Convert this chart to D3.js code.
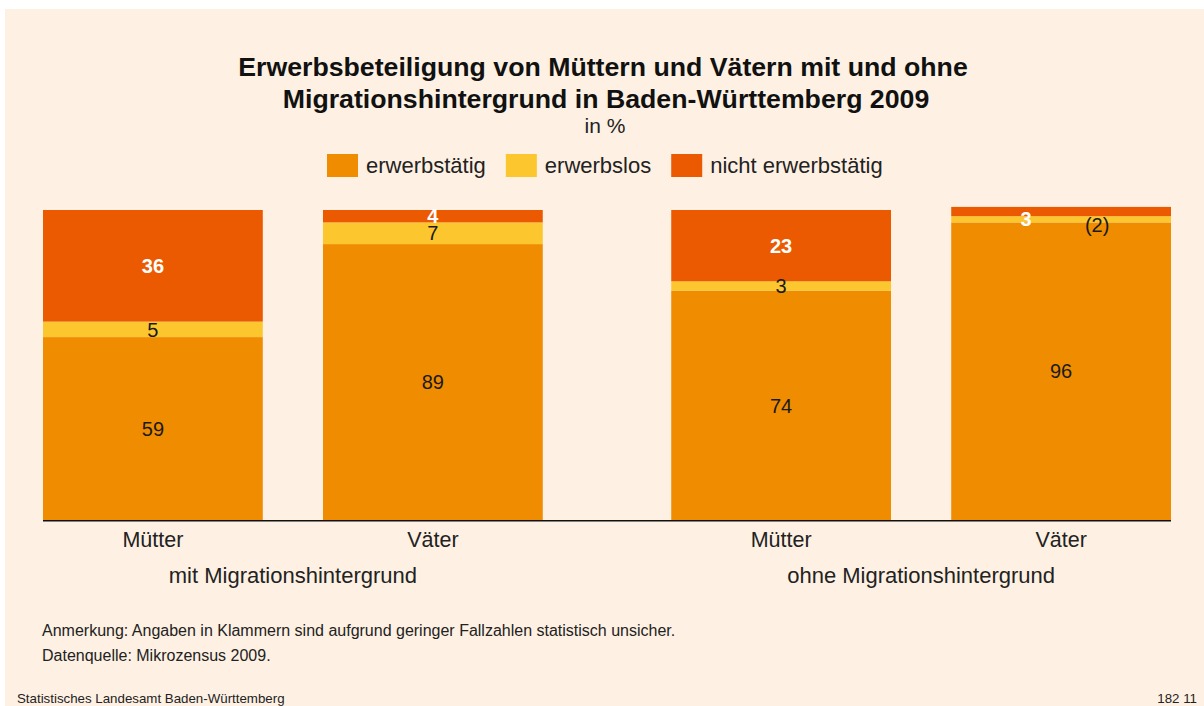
<!DOCTYPE html>
<html>
<head>
<meta charset="utf-8">
<script src="https://cdn.jsdelivr.net/npm/d3@7"></script>
<style>
  body { margin: 0; background: #fff; }
  text { font-family: "Liberation Sans", Arial, sans-serif; }
</style>
</head>
<body>
<svg id="chart" width="1204" height="706"></svg>
<script>
// data
const groups = ["mit Migrationshintergrund", "ohne Migrationshintergrund"];
const persons = ["Mütter", "Väter"];
const seriesNames = ["erwerbstätig", "erwerbslos", "nicht erwerbstätig"];
const erwerbstaetig = [59, 89, 74, 96];
const erwerbslos = [5, 7, 3, 2];
const nichtErwerbstaetig = [36, 4, 23, 3];
const labelTexts = [
  ["59", "5", "36"],
  ["89", "7", "4"],
  ["74", "3", "23"],
  ["96", "(2)", "3"]
];

const colors = ["#f08c00", "#fcc72e", "#eb5a00"];

const svg = d3.select("#chart");
svg.selectAll("*").remove();

// background panel
svg.append("rect")
  .attr("x", 5).attr("y", 9)
  .attr("width", 1199).attr("height", 697)
  .attr("fill", "#fef1e3");

// title
const title = svg.append("text")
  .attr("text-anchor", "middle")
  .attr("font-weight", "bold")
  .attr("font-size", 26.7)
  .attr("fill", "#111");
title.append("tspan").attr("x", 603).attr("y", 76)
  .text("Erwerbsbeteiligung von Müttern und Vätern mit und ohne");
title.append("tspan").attr("x", 606).attr("y", 108)
  .text("Migrationshintergrund in Baden-Württemberg 2009");

svg.append("text")
  .attr("x", 605).attr("y", 133)
  .attr("text-anchor", "middle")
  .attr("font-size", 21)
  .attr("fill", "#222")
  .text("in %");

// legend
let lx = 327;
seriesNames.forEach((name, i) => {
  svg.append("rect")
    .attr("x", lx).attr("y", 154)
    .attr("width", 31).attr("height", 23)
    .attr("fill", colors[i]);
  const t = svg.append("text")
    .attr("x", lx + 39).attr("y", 173)
    .attr("font-size", 22)
    .attr("fill", "#222")
    .text(name);
  lx += 39 + t.node().getComputedTextLength() + 20;
});

// scales
const x0 = d3.scaleBand()
  .domain(groups)
  .range([43, 1171])
  .paddingInner(0.2045)
  .paddingOuter(0);

const x1 = d3.scaleBand()
  .domain(persons)
  .range([0, x0.bandwidth()])
  .paddingInner(0.215)
  .paddingOuter(0);

const y = d3.scaleLinear().domain([0, 100]).range([520, 210]);

// stacked rows
const rows = [];
groups.forEach((g, gi) => {
  persons.forEach((p, pi) => {
    const k = gi * 2 + pi;
    rows.push({
      group: g, person: p, idx: k,
      erwerbstaetig: erwerbstaetig[k],
      erwerbslos: erwerbslos[k],
      nicht: nichtErwerbstaetig[k]
    });
  });
});

const stack = d3.stack().keys(["erwerbstaetig", "erwerbslos", "nicht"]);
const series = stack(rows);

const xPos = d => x0(d.data.group) + x1(d.data.person);

series.forEach((s, si) => {
  svg.append("g")
    .selectAll("rect")
    .data(s)
    .join("rect")
    .attr("x", d => xPos(d))
    .attr("y", d => y(d[1]))
    .attr("width", x1.bandwidth())
    .attr("height", d => y(d[0]) - y(d[1]))
    .attr("fill", colors[si]);
});

// value labels (small nudges for the crowded last bar)
const nudges = { "3-2": [-35, 7], "3-1": [36, 5] };
series.forEach((s, si) => {
  s.forEach(d => {
    const k = d.data.idx;
    const n = nudges[k + "-" + si] || [0, 0];
    const cx = xPos(d) + x1.bandwidth() / 2 + n[0];
    const cy = (y(d[0]) + y(d[1])) / 2 + n[1];
    svg.append("text")
      .attr("x", cx).attr("y", cy)
      .attr("dy", "0.36em")
      .attr("text-anchor", "middle")
      .attr("font-size", 20)
      .attr("font-weight", si === 2 ? "bold" : "normal")
      .attr("fill", si === 2 ? "#fff" : "#1a1a1a")
      .text(labelTexts[k][si]);
  });
});

// baseline
svg.append("line")
  .attr("x1", 43).attr("x2", 1171)
  .attr("y1", y(0) + 0.75).attr("y2", y(0) + 0.75)
  .attr("stroke", "#111")
  .attr("stroke-width", 1.5);

// category labels
rows.forEach(r => {
  svg.append("text")
    .attr("x", x0(r.group) + x1(r.person) + x1.bandwidth() / 2)
    .attr("y", 547)
    .attr("text-anchor", "middle")
    .attr("font-size", 21.5)
    .attr("fill", "#222")
    .text(r.person);
});

groups.forEach(g => {
  svg.append("text")
    .attr("x", x0(g) + x0.bandwidth() / 2)
    .attr("y", 583)
    .attr("text-anchor", "middle")
    .attr("font-size", 22)
    .attr("fill", "#222")
    .text(g);
});

// notes
svg.append("text")
  .attr("x", 42).attr("y", 636)
  .attr("font-size", 16)
  .attr("fill", "#222")
  .text("Anmerkung: Angaben in Klammern sind aufgrund geringer Fallzahlen statistisch unsicher.");
svg.append("text")
  .attr("x", 42).attr("y", 661)
  .attr("font-size", 16)
  .attr("fill", "#222")
  .text("Datenquelle: Mikrozensus 2009.");

svg.append("text")
  .attr("x", 17).attr("y", 703)
  .attr("font-size", 13.3)
  .attr("fill", "#222")
  .text("Statistisches Landesamt Baden-Württemberg");
svg.append("text")
  .attr("x", 1197).attr("y", 703)
  .attr("text-anchor", "end")
  .attr("font-size", 13.3)
  .attr("fill", "#222")
  .text("182 11");
</script>
</body>
</html>
